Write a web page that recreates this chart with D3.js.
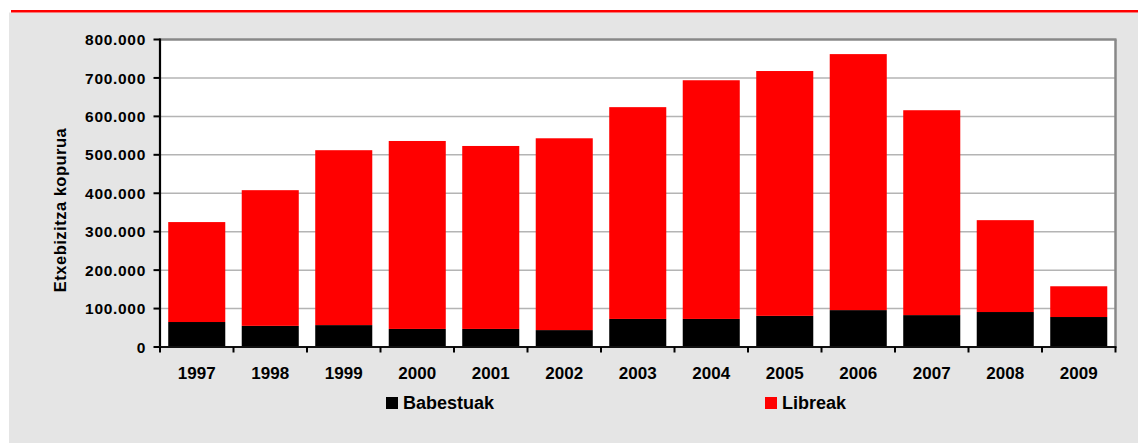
<!DOCTYPE html>
<html>
<head>
<meta charset="utf-8">
<script src="https://cdn.jsdelivr.net/npm/d3@7"></script>
<style>
  html, body { margin: 0; padding: 0; background: #ffffff; }
  svg { display: block; }
  text { font-family: "Liberation Sans", Arial, sans-serif; font-weight: bold; fill: #000; }
</style>
</head>
<body>
<svg id="chart" width="1138" height="443"></svg>
<script>
// Dwellings per year, split into protected (Babestuak) and free-market (Libreak)
const years = ["1997", "1998", "1999", "2000", "2001", "2002", "2003", "2004", "2005", "2006", "2007", "2008", "2009"];
const babestuak = [65000, 55000, 57000, 47000, 47000, 44000, 73000, 73000, 81000, 96000, 83000, 91000, 78000];
const libreak = [260000, 353000, 455000, 489000, 476000, 499000, 551000, 621000, 637000, 666000, 533000, 239000, 80000];
const yTicks = [0, 100000, 200000, 300000, 400000, 500000, 600000, 700000, 800000];
const seriesNames = ["Babestuak", "Libreak"];
const seriesColors = ["#000000", "#ff0000"];
const yTitle = "Etxebizitza kopurua";

const svg = d3.select("#chart");
const W = 1138, H = 443;

// page furniture: red rule and grey panel
svg.append("rect").attr("x", 9).attr("y", 12.5).attr("width", W - 9).attr("height", H - 12.5).attr("fill", "#e5e5e5");
svg.append("rect").attr("x", 11).attr("y", 10).attr("width", W - 11).attr("height", 2.5).attr("fill", "#ff0000");

const plot = { left: 160, right: 1115.5, top: 39.5, bottom: 347 };

const x = d3.scaleBand().domain(years).range([plot.left, plot.right]).paddingInner(0.224).paddingOuter(0.112);
const y = d3.scaleLinear().domain([0, 800000]).range([plot.bottom, plot.top]);

const locale = d3.formatLocale({ decimal: ",", thousands: ".", grouping: [3], currency: ["", ""] });
const fmt = locale.format(",d");

// plot background
svg.append("rect").attr("x", plot.left).attr("y", plot.top)
  .attr("width", plot.right - plot.left).attr("height", plot.bottom - plot.top).attr("fill", "#ffffff");

// horizontal gridlines
svg.append("g").selectAll("line").data(yTicks.filter(t => t > 0 && t < 800000)).join("line")
  .attr("x1", plot.left).attr("x2", plot.right)
  .attr("y1", d => y(d)).attr("y2", d => y(d))
  .attr("stroke", "#b4b4b4").attr("stroke-width", 1.5);

// stacked bars
const rows = years.map((yr, i) => ({ year: yr, Babestuak: babestuak[i], Libreak: libreak[i] }));
const stacked = d3.stack().keys(seriesNames)(rows);
svg.append("g").selectAll("g").data(stacked).join("g")
  .attr("fill", (d, i) => seriesColors[i])
  .selectAll("rect").data(d => d).join("rect")
  .attr("x", d => x(d.data.year))
  .attr("width", x.bandwidth())
  .attr("y", d => y(d[1]))
  .attr("height", d => y(d[0]) - y(d[1]));

// top and right frame
svg.append("line").attr("x1", plot.left).attr("x2", plot.right + 1).attr("y1", plot.top).attr("y2", plot.top)
  .attr("stroke", "#888888").attr("stroke-width", 2.5);
svg.append("line").attr("x1", plot.right).attr("x2", plot.right).attr("y1", plot.top).attr("y2", plot.bottom)
  .attr("stroke", "#888888").attr("stroke-width", 2.5);

// y axis
const yAxis = svg.append("g");
yAxis.append("line").attr("x1", plot.left).attr("x2", plot.left).attr("y1", plot.top - 1).attr("y2", plot.bottom + 1)
  .attr("stroke", "#000").attr("stroke-width", 2.2);
yAxis.selectAll("line.tick").data(yTicks).join("line").attr("class", "tick")
  .attr("x1", plot.left - 6.5).attr("x2", plot.left)
  .attr("y1", d => y(d)).attr("y2", d => y(d))
  .attr("stroke", "#000").attr("stroke-width", 2);
yAxis.selectAll("text").data(yTicks).join("text")
  .attr("x", 146).attr("y", d => y(d)).attr("dy", "0.36em")
  .attr("text-anchor", "end").attr("font-size", 15.5).attr("letter-spacing", 0.7)
  .text(d => fmt(d));

// x axis
const xAxis = svg.append("g");
xAxis.append("line").attr("x1", plot.left - 1).attr("x2", plot.right + 1).attr("y1", plot.bottom).attr("y2", plot.bottom)
  .attr("stroke", "#111").attr("stroke-width", 2.2);
const step = x.step();
const edges = years.map(yr => x(yr) - (step - x.bandwidth()) / 2).concat([plot.right]);
xAxis.selectAll("line.tick").data(edges).join("line").attr("class", "tick")
  .attr("x1", d => d).attr("x2", d => d).attr("y1", plot.bottom).attr("y2", plot.bottom + 5.5)
  .attr("stroke", "#000").attr("stroke-width", 2);
xAxis.selectAll("text").data(years).join("text")
  .attr("x", d => x(d) + x.bandwidth() / 2).attr("y", 379)
  .attr("text-anchor", "middle").attr("font-size", 17)
  .text(d => d);

// y axis title
svg.append("text")
  .attr("transform", `translate(66,210) rotate(-90)`)
  .attr("text-anchor", "middle").attr("font-size", 16.5).attr("letter-spacing", 0.5)
  .text(yTitle);

// legend
const legendX = [386, 765];
const legend = svg.append("g").selectAll("g").data(seriesNames).join("g")
  .attr("transform", (d, i) => `translate(${legendX[i]},397)`);
legend.append("rect").attr("width", 12).attr("height", 12).attr("fill", (d, i) => seriesColors[i]);
legend.append("text").attr("x", 17).attr("y", 12.3).attr("font-size", 18).text(d => d);
</script>
</body>
</html>
